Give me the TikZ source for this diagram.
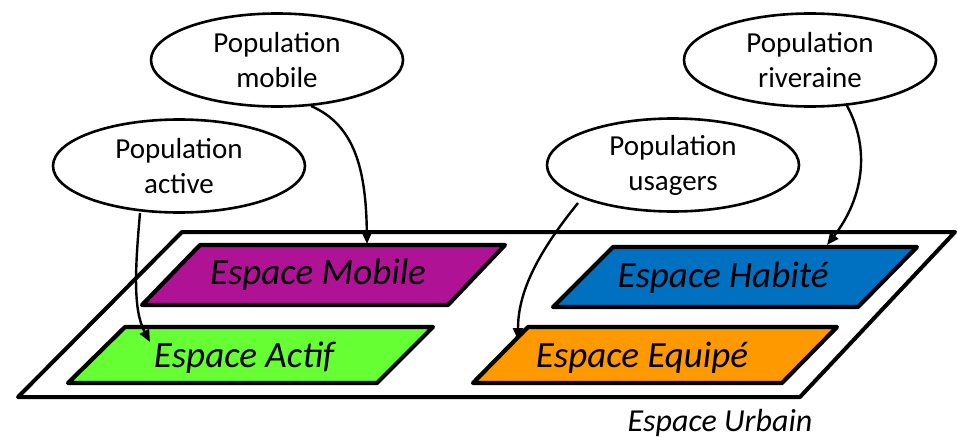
\documentclass[tikz,border=0pt]{standalone}
\usepackage{fontspec}
\setmainfont{Carlito}
\usetikzlibrary{arrows.meta,shapes.geometric}
\definecolor{cmobile}{RGB}{176,18,150}
\definecolor{cactif}{RGB}{102,255,51}
\definecolor{chabite}{RGB}{0,112,192}
\definecolor{cequipe}{RGB}{255,153,0}
\tikzset{
  pop/.style={draw, line width=2.6pt, ellipse, minimum width=252pt, minimum height=93pt, inner sep=0pt, align=center, font=\fontsize{29}{35}\selectfont},
  zone/.style={draw, line width=4.2pt, line join=round},
  zonetext/.style={font=\itshape\fontsize{37}{42}\selectfont, inner sep=0pt},
  link/.style={line width=2.4pt, -{Triangle[length=12pt,width=10pt]}}
}
\begin{document}
\begin{tikzpicture}[x=1pt,y=-1pt]
\useasboundingbox (0,0) rectangle (957,436);
% outer urban space
\draw[line width=4pt, line join=round] (182,232) -- (955,232) -- (800,397) -- (18,397) -- cycle;
\node[font=\itshape\fontsize{32}{36}\selectfont, inner sep=0pt] (urb) at (720,423) {Espace Urbain};
% zones
\draw[zone, fill=cmobile] (200,245) -- (505,245) -- (448,305) -- (142,305) -- cycle;
\node[zonetext] (mob) at (318,275) {Espace Mobile};
\draw[zone, fill=cactif] (125,327) -- (433,327) -- (377,383) -- (68,383) -- cycle;
\node[zonetext] (act) at (244,358) {Espace Actif};
\draw[zone, fill=chabite] (613,247) -- (917,247) -- (858,307) -- (553,307) -- cycle;
\node[zonetext] (hab) at (723,278) {Espace Habité};
\draw[zone, fill=cequipe] (528,327) -- (837,327) -- (782,383) -- (473,383) -- cycle;
\node[zonetext] (equ) at (642,358) {Espace Equipé};
% targets on zone edges
\coordinate (tmob) at (367,244);
\coordinate (tact) at (150,342);
\coordinate (thab) at (827,245);
\coordinate (tequ) at (518,340);
% population ellipses
\node[pop] (pmob) at (277,60) {Population\\mobile};
\node[pop] (pact) at (179,166) {Population\\active};
\node[pop] (priv) at (810,60) {Population\\riveraine};
\node[pop] (pusa) at (673,165) {Population\\usagers};
% connectors
\coordinate (smob) at (311,106);
\coordinate (sact) at (140,213);
\coordinate (sriv) at (846,104);
\coordinate (susa) at (578,203);
\draw[link] (smob) .. controls (355,125) and (366,170) .. (tmob);
\draw[link] (sact) .. controls (135,270) and (133,310) .. (tact);
\draw[link] (susa) .. controls (540,250) and (518,290) .. (tequ);
\draw[link] (sriv) .. controls (872,150) and (862,200) .. (thab);
\end{tikzpicture}
\end{document}
